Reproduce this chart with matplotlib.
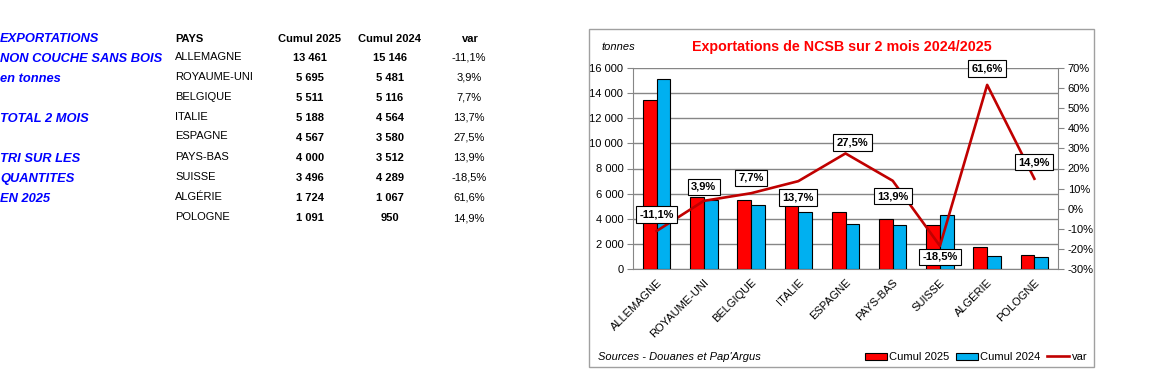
import matplotlib
matplotlib.use("Agg")
import matplotlib.pyplot as plt
from matplotlib.patches import Rectangle
from matplotlib.lines import Line2D

plt.rcParams['font.family'] = ['Liberation Sans', 'DejaVu Sans']

pays = ['ALLEMAGNE', 'ROYAUME-UNI', 'BELGIQUE', 'ITALIE', 'ESPAGNE',
        'PAYS-BAS', 'SUISSE', 'ALGÉRIE', 'POLOGNE']
cumul_2025 = [13461, 5695, 5511, 5188, 4567, 4000, 3496, 1724, 1091]
cumul_2024 = [15146, 5481, 5116, 4564, 3580, 3512, 4289, 1067, 950]
var = [-11.1, 3.9, 7.7, 13.7, 27.5, 13.9, -18.5, 61.6, 14.9]

left_notes = [('EXPORTATIONS', 0), ('NON COUCHE SANS BOIS', 1), ('en tonnes', 2),
              ('TOTAL 2 MOIS', 4), ('TRI SUR LES', 6), ('QUANTITES', 7), ('EN 2025', 8)]

W, H = 1166, 387
RED = '#FF0000'
BLUE = '#00B0F0'
LINE = '#C00000'
GRID = '#868686'
TXTBLUE = '#0000FF'


def fx(px):
    return px / W


def fy(py):
    return 1 - py / H


def fmt(v):
    return f"{v:,}".replace(",", " ")


def pct(v):
    return f"{v:.1f}%".replace(".", ",")


fig = plt.figure(figsize=(W / 100, H / 100), dpi=100)

# --- left table ---
for txt, row in left_notes:
    fig.text(fx(0), fy(39 + row * 20), txt, color=TXTBLUE, fontsize=9.3,
             fontweight='bold', fontstyle='italic', va='center', ha='left')

fig.text(fx(175), fy(39), 'PAYS', fontsize=8, fontweight='bold', va='center')
fig.text(fx(309), fy(39), 'Cumul 2025', fontsize=8, fontweight='bold', va='center', ha='center')
fig.text(fx(389), fy(39), 'Cumul 2024', fontsize=8, fontweight='bold', va='center', ha='center')
fig.text(fx(470), fy(39), 'var', fontsize=8, fontweight='bold', va='center', ha='center')
for i, p in enumerate(pays):
    y = 58 + i * 20
    fig.text(fx(175), fy(y - 1.5), p, fontsize=8, va='center')
    fig.text(fx(310), fy(y), fmt(cumul_2025[i]), fontsize=8, fontweight='bold', va='center', ha='center')
    fig.text(fx(390), fy(y), fmt(cumul_2024[i]), fontsize=8, fontweight='bold', va='center', ha='center')
    fig.text(fx(469), fy(y), pct(var[i]), fontsize=8, va='center', ha='center')

# --- chart frame ---
fig.patches.append(Rectangle((fx(589), fy(367)), fx(1094) - fx(589), fy(29) - fy(367),
                             transform=fig.transFigure, fill=False, edgecolor='#A0A0A0',
                             linewidth=1.0))

ax = fig.add_axes([fx(633), fy(269), fx(1058) - fx(633), fy(68) - fy(269)])
x = list(range(len(pays)))
bw = 0.29
ax.bar([i - bw / 2 for i in x], cumul_2025, width=bw, color=RED, edgecolor='black',
       linewidth=0.8, zorder=3)
ax.bar([i + bw / 2 for i in x], cumul_2024, width=bw, color=BLUE, edgecolor='black',
       linewidth=0.8, zorder=3)
ax.set_xlim(-0.5, len(pays) - 0.5)
ax.set_ylim(0, 16000)
ax.set_yticks(range(0, 16001, 2000))
ax.set_yticklabels([fmt(v) for v in range(0, 16001, 2000)], fontsize=8)
ax.yaxis.grid(True, color=GRID, linewidth=1.0, zorder=0)
ax.set_axisbelow(True)
ax.set_xticks(x)
ax.set_xticklabels(pays, rotation=45, ha='right', rotation_mode='anchor', fontsize=8)
ax.tick_params(axis='x', length=0, pad=6)
ax.tick_params(axis='y', length=4, color=GRID, pad=3)
for s in ['left', 'right', 'bottom']:
    ax.spines[s].set_color(GRID)
ax.spines['top'].set_visible(False)

ax2 = ax.twinx()
ax2.plot(x, var, color=LINE, linewidth=1.9, zorder=4)
ax2.set_ylim(-30, 70)
ax2.set_yticks(range(-30, 71, 10))
ax2.set_yticklabels([f"{v}%" for v in range(-30, 71, 10)], fontsize=8)
ax2.tick_params(axis='y', length=4, color=GRID, pad=3)
for s in ax2.spines.values():
    s.set_visible(False)

below = {3, 5, 6}
offs = {0: 12, 1: 10, 2: 11, 3: 12, 4: 8, 5: 11, 6: 8, 7: 12, 8: 12}
dxs = {4: 5}
for i, v in enumerate(var):
    dy = -offs[i] if i in below else offs[i]
    ax2.annotate(pct(v), (i, v), xytext=(dxs.get(i, 0), dy), textcoords='offset points',
                 ha='center', va='center', fontsize=8, fontweight='bold', zorder=5,
                 bbox=dict(boxstyle='square,pad=0.3', facecolor='white', edgecolor='black',
                           linewidth=0.8))

fig.text(fx(842), fy(47), 'Exportations de NCSB sur 2 mois 2024/2025', color=RED,
         fontsize=10.3, fontweight='bold', ha='center', va='center')
fig.text(fx(602), fy(47), 'tonnes', fontsize=8, fontstyle='italic', va='center')
fig.text(fx(598), fy(357), "Sources - Douanes et Pap'Argus", fontsize=8,
         fontstyle='italic', va='center')

handles = [Rectangle((0, 0), 1, 1, facecolor=RED, edgecolor='black', linewidth=0.8),
           Rectangle((0, 0), 1, 1, facecolor=BLUE, edgecolor='black', linewidth=0.8),
           Line2D([], [], color=LINE, linewidth=1.9)]
fig.legend(handles, ['Cumul 2025', 'Cumul 2024', 'var'], loc='center right',
           bbox_to_anchor=(fx(1094), fy(357)), ncol=3, frameon=False, fontsize=8,
           handlelength=2.0, handleheight=0.6, handletextpad=0.2, columnspacing=0.6,
           borderaxespad=0.2)

fig.savefig('out.png', dpi=100)
